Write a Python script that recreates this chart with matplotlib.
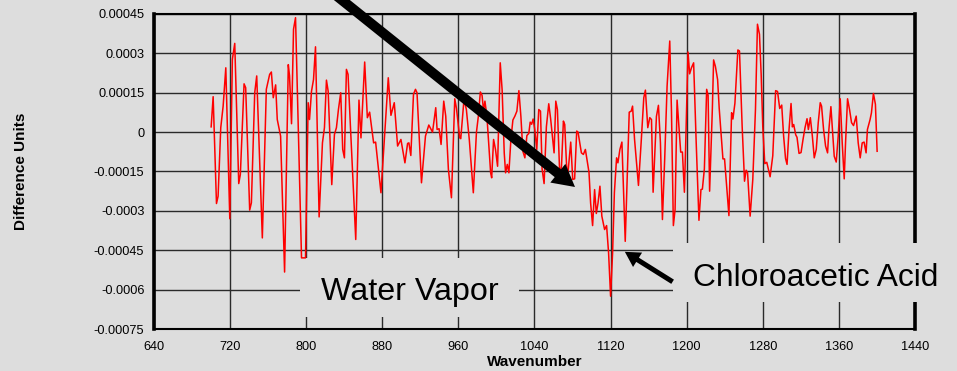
import numpy as np
import matplotlib
matplotlib.use("Agg")
import matplotlib.pyplot as plt
from matplotlib.patches import Rectangle, FancyArrow
from matplotlib.transforms import IdentityTransform

plt.rcParams["font.family"] = ["Liberation Sans", "DejaVu Sans"]

# spectrum difference (y in units of 1e-4)
wavenumber = [
    700.1, 702.2, 705.7, 707.4, 710.2, 712.7, 715.5, 719.7, 722.4, 724.9,
    729.1, 730.8, 734.7, 736.4, 740.6, 742.4, 745.9, 748.0, 753.9, 758.1,
    761.6, 763.4, 765.4, 767.9, 769.6, 773.1, 777.3, 781.2, 782.5, 784.6,
    786.7, 788.8, 795.1, 799.3, 802.1, 803.5, 805.6, 807.7, 809.8, 813.6,
    817.1, 819.2, 821.3, 823.1, 826.9, 829.7, 831.8, 833.9, 836.3, 838.4,
    840.2, 842.3, 844.0, 846.5, 852.1, 855.5, 857.6, 861.5, 864.3, 866.7,
    870.9, 873.0, 878.6, 886.3, 889.1, 892.6, 896.1, 899.6, 903.8, 906.6,
    908.0, 910.0, 912.8, 914.9, 916.5, 921.2, 925.4, 928.9, 932.8, 934.5,
    936.2, 937.6, 939.7, 941.8, 944.6, 946.7, 949.5, 952.7, 956.2, 958.0,
    961.4, 962.5, 965.9, 968.4, 971.5, 975.7, 979.0, 981.0, 983.1, 984.9,
    986.5, 987.9, 990.0, 993.9, 995.0, 997.0, 999.0, 1001.2, 1004.0, 1006.0,
    1008.2, 1009.6, 1011.4, 1013.1, 1015.2, 1017.3, 1019.4, 1021.5, 1023.6, 1025.7,
    1027.8, 1029.9, 1032.0, 1034.0, 1035.5, 1037.0, 1038.6, 1040.3, 1042.4, 1044.5,
    1046.3, 1048.0, 1050.1, 1052.5, 1055.0, 1057.0, 1060.6, 1062.4, 1064.1, 1066.6,
    1068.4, 1070.4, 1071.8, 1073.5, 1074.6, 1078.1, 1080.2, 1082.2, 1084.4, 1085.8,
    1089.3, 1091.4, 1093.5, 1094.9, 1097.3, 1099.0, 1101.1, 1103.2, 1105.0, 1106.8,
    1108.8, 1110.8, 1113.7, 1115.8, 1117.9, 1120.0, 1122.1, 1124.0, 1126.3, 1127.7,
    1129.8, 1131.9, 1135.4, 1139.6, 1141.7, 1143.1, 1145.2, 1149.3, 1152.1, 1154.9,
    1156.6, 1159.1, 1161.2, 1163.0, 1164.7, 1168.2, 1170.3, 1172.4, 1174.5, 1176.9,
    1179.4, 1182.2, 1184.0, 1186.0, 1187.8, 1189.9, 1191.9, 1193.7, 1195.5, 1197.6,
    1199.0, 1201.4, 1203.1, 1205.0, 1207.3, 1210.0, 1212.9, 1215.0, 1216.5, 1218.6,
    1221.0, 1222.5, 1224.1, 1227.0, 1228.3, 1230.2, 1232.5, 1234.2, 1238.1, 1239.8,
    1244.4, 1247.2, 1248.6, 1250.7, 1253.8, 1255.5, 1258.3, 1260.8, 1262.5, 1264.0,
    1266.7, 1269.5, 1272.3, 1274.4, 1276.5, 1278.3, 1280.0, 1282.1, 1284.2, 1287.7,
    1290.5, 1293.5, 1295.5, 1297.8, 1299.9, 1301.9, 1303.9, 1305.5, 1307.6, 1309.7,
    1311.1, 1312.5, 1314.6, 1316.0, 1318.1, 1320.2, 1322.3, 1324.4, 1326.5, 1327.9,
    1330.0, 1332.1, 1334.1, 1336.2, 1338.3, 1340.4, 1341.8, 1343.9, 1346.0, 1348.1,
    1349.5, 1351.6, 1353.7, 1355.1, 1357.2, 1359.3, 1361.4, 1363.5, 1365.6, 1367.0,
    1369.1, 1371.2, 1373.3, 1375.4, 1378.2, 1380.3, 1382.4, 1384.5, 1386.5, 1388.6,
    1390.0, 1392.8, 1394.2, 1396.3, 1398.4, 1400.2,
]
diff_1e4 = [
    0.20, 1.35, -2.72, -2.44, 0.17, 0.99, 2.45, -3.30, 2.77, 3.38,
    -1.96, -1.61, 1.84, 1.69, -2.97, -2.69, 1.50, 2.14, -4.03, 1.63,
    2.20, 2.29, 1.31, 1.80, 0.48, -0.15, -5.33, 2.57, 2.14, 0.32,
    3.92, 4.36, -4.79, -4.79, 1.12, 0.48, 1.56, 2.00, 3.25, -3.23,
    -0.41, 0.17, 1.98, 1.56, -2.00, -0.09, 0.17, 0.86, 1.50, -0.66,
    -0.98, 2.39, 2.20, 0.23, -4.09, 1.22, -0.22, 2.67, 0.55, 0.76,
    -0.41, -0.38, -2.31, 2.07, 0.64, 1.12, -0.53, -0.28, -1.17, -0.43,
    -0.41, -0.89, 1.44, 1.63, 1.50, -1.93, -0.15, 0.27, 0.00, 0.48,
    0.93, 0.10, 0.13, -0.47, 1.18, 0.61, -1.42, -2.50, 1.27, 0.90,
    -0.22, -0.25, 1.25, 0.86, -0.30, -2.31, 0.00, 0.61, 1.53, 1.40,
    0.80, 1.18, 0.60, -1.55, -1.74, -0.28, -0.66, -1.30, 2.64, 1.60,
    -0.79, -1.55, -1.23, -1.55, -0.28, 0.46, 0.61, 0.80, 1.58, 0.60,
    -0.73, -0.98, -0.13, -0.05, 0.38, 0.30, 0.50, 0.10, -0.66, 0.86,
    0.80, -1.40, -1.96, 0.20, 1.08, 0.50, -0.79, 1.18, 0.86, -1.68,
    -1.30, 0.42, 0.29, -1.10, -1.80, -0.38, -1.80, -1.78, 0.04, 0.00,
    -0.79, -0.85, -0.66, -0.98, -1.53, -2.70, -3.56, -2.19, -3.10, -2.70,
    -2.06, -3.20, -3.71, -3.56, -4.60, -6.25, -4.60, -2.30, -0.98, -1.17,
    -0.66, -0.38, -4.16, 0.76, 0.80, 0.99, -0.28, -2.03, -0.41, 1.31,
    1.60, 0.17, 0.55, 0.48, -2.29, 0.60, 1.02, -0.41, -3.33, -1.00,
    1.75, 3.47, 0.80, -3.56, -2.95, 1.22, 0.20, -0.76, -0.76, -2.29,
    -0.40, 3.05, 2.22, 2.45, 2.64, -0.40, -3.36, -2.19, -2.17, -1.40,
    1.63, 1.40, -2.25, 0.90, 2.75, 2.50, 2.00, 0.90, -1.02, -1.02,
    -3.18, 0.74, 0.50, 1.10, 3.13, 3.09, 0.23, -1.87, -1.45, -1.55,
    -3.20, -1.80, 0.86, 4.11, 3.73, 2.20, 0.20, -1.20, -1.15, -1.70,
    -0.90, 1.58, 1.55, 0.90, 1.03, -0.15, -1.00, -1.23, 0.10, 1.09,
    0.20, 0.29, -0.10, -0.20, -0.81, -0.78, -0.28, 0.17, 0.51, 0.10,
    0.55, -0.15, -0.98, -0.66, 0.36, 1.12, 0.99, 0.10, -0.53, -0.79,
    0.10, 0.97, -0.15, -0.92, -1.14, -0.15, 1.27, -0.41, -1.78, -0.41,
    1.27, 0.86, 0.36, 0.25, 0.61, -0.41, -0.98, -0.41, -0.38, -0.79,
    0.10, 0.48, 0.73, 1.47, 1.06, -0.73,
]

x_ticks = [640, 720, 800, 880, 960, 1040, 1120, 1200, 1280, 1360, 1440]
y_ticks = [-0.00075, -0.0006, -0.00045, -0.0003, -0.00015, 0, 0.00015, 0.0003, 0.00045]
y_tick_labels = ["-0.00075", "-0.0006", "-0.00045", "-0.0003", "-0.00015",
                 "0", "0.00015", "0.0003", "0.00045"]

BG = "#dddddd"

diff = np.array(diff_1e4) * 1e-4

fig = plt.figure(figsize=(9.57, 3.71), dpi=100, facecolor=BG)
ax = fig.add_axes([0.1609, 0.1132, 0.7952, 0.8491])
ax.set_facecolor(BG)

ax.plot(wavenumber, diff, color="#ff0000", lw=1.1, zorder=5)

ax.set_xlim(640, 1440)
ax.set_ylim(-0.00075, 0.00045)
ax.set_xticks(x_ticks)
ax.set_xticklabels([str(t) for t in x_ticks])
ax.set_yticks(y_ticks)
ax.set_yticklabels(y_tick_labels)
ax.tick_params(length=0, labelsize=9.2, colors="black")
ax.tick_params(axis="x", pad=8.5)
ax.tick_params(axis="y", pad=7)
ax.grid(True, color="#2a2a2a", lw=1.0, zorder=1)
ax.set_axisbelow(True)

ax.spines["left"].set_linewidth(2.6)
ax.spines["right"].set_linewidth(2.6)
ax.spines["top"].set_linewidth(1.5)
ax.spines["bottom"].set_linewidth(1.5)

ax.set_xlabel("Wavenumber", fontsize=11, fontweight="bold", labelpad=1.5)
ax.set_ylabel("Difference Units", fontsize=11, fontweight="bold")
ax.yaxis.set_label_coords(-0.165, 0.5)

# label boxes in the background colour, hiding the grid behind them
ax.add_patch(Rectangle((793.5, -0.000704), 230.2, 0.000224, fc=BG, ec="none",
                       zorder=3, clip_on=False))
ax.add_patch(Rectangle((1185.6, -0.000647), 310, 0.000225, fc=BG, ec="none",
                       zorder=3, clip_on=False))
ax.text(909, -0.000640, "Water Vapor", fontsize=23.2, ha="center", va="baseline", zorder=6)
ax.text(1206.6, -0.000586, "Chloroacetic Acid", fontsize=22.9, ha="left", va="baseline",
        zorder=6, clip_on=False)


def draw_arrow(tail, tip, width, head_width, head_length):
    # arrow drawn in display pixels so the head keeps its shape
    x0, y0 = ax.transData.transform(tail)
    x1, y1 = ax.transData.transform(tip)
    arr = FancyArrow(x0, y0, x1 - x0, y1 - y0, width=width, head_width=head_width,
                     head_length=head_length, length_includes_head=True,
                     fc="black", ec="none", transform=IdentityTransform(), zorder=7)
    fig.add_artist(arr)


draw_arrow((830, 0.000525), (1082.6, -0.000209), 10, 24, 22)
draw_arrow((1185.2, -0.00057), (1135, -0.000456), 5, 17, 15)

fig.savefig("out.png", dpi=100, facecolor=BG)
